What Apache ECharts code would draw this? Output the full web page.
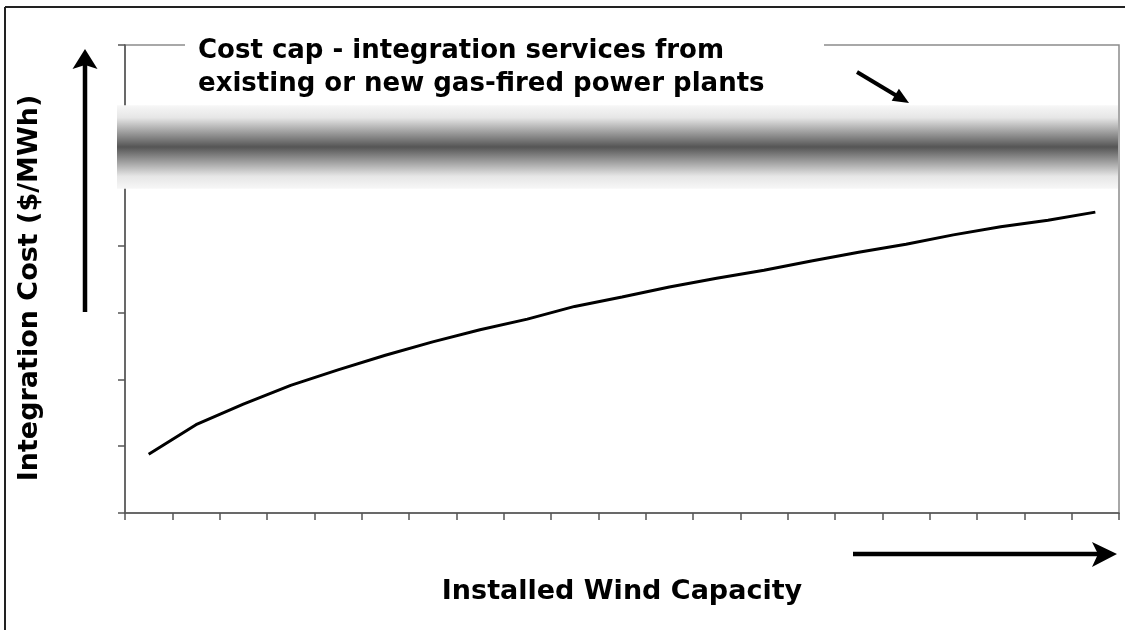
<!DOCTYPE html>
<html lang="en">
<head>
<meta charset="UTF-8">
<title>Integration cost vs installed wind capacity</title>
<script src="https://cdn.jsdelivr.net/npm/echarts@6/dist/echarts.min.js"></script>
<style>
  html, body { margin: 0; padding: 0; background: #fff; }
  #container { width: 1125px; height: 630px; }
</style>
</head>
<body>
<div id="container"></div>
<script>
// data (no tick labels in the original, so units are arbitrary)
const categories = ['1', '2', '3', '4', '5', '6', '7', '8', '9', '10', '11',
  '12', '13', '14', '15', '16', '17', '18', '19', '20', '21'];
const costValues = [0.88, 1.32, 1.63, 1.91, 2.14, 2.36, 2.56, 2.74, 2.90, 3.09, 3.23,
  3.38, 3.51, 3.63, 3.77, 3.90, 4.02, 4.16, 4.28, 4.38, 4.50];
const yRange = [0, 7];
const capBand = [4.85, 6.1]; // shaded "cost cap" band, in y units

const xName = 'Installed Wind Capacity';
const yName = 'Integration Cost ($/MWh)';
const capText = 'Cost cap - integration services from\nexisting or new gas-fired power plants';

const FONT = '"DejaVu Sans", Verdana, sans-serif';
const AXIS_COLOR = '#555';

const chart = echarts.init(document.getElementById('container'), null, { renderer: 'canvas' });

chart.setOption({
  animation: false,
  grid: {
    left: 125, right: 6, top: 45, bottom: 117,
    show: true, borderColor: '#8c8c8c', borderWidth: 1.5
  },
  xAxis: {
    type: 'category',
    data: categories,
    boundaryGap: true,
    axisLine: { lineStyle: { color: AXIS_COLOR, width: 1.5 } },
    axisTick: { show: true, length: 7, lineStyle: { color: AXIS_COLOR, width: 1.5 } },
    axisLabel: { show: false },
    splitLine: { show: false },
    name: xName,
    nameLocation: 'middle',
    nameGap: 65,
    nameTextStyle: { fontFamily: FONT, fontWeight: 'bold', fontSize: 27, color: '#000' }
  },
  yAxis: {
    type: 'value',
    min: yRange[0], max: yRange[1], interval: 1,
    axisLine: { show: true, lineStyle: { color: AXIS_COLOR, width: 1.5 } },
    axisTick: { show: true, length: 7, lineStyle: { color: AXIS_COLOR, width: 1.5 } },
    axisLabel: { show: false },
    splitLine: { show: false },
    name: yName,
    nameLocation: 'middle',
    nameGap: 82,
    nameRotate: 90,
    nameTextStyle: {
      fontFamily: FONT, fontWeight: 'bold', fontSize: 27, color: '#000',
      padding: [0, 18, 0, 0] // nudges the rotated name a little lower
    }
  },
  series: [{
    type: 'line',
    data: costValues,
    symbol: 'none',
    lineStyle: { color: '#000', width: 3 },
    z: 5
  }]
});

// band edges through the y scale
const bandTopPx = chart.convertToPixel({ yAxisIndex: 0 }, capBand[1]);
const bandBotPx = chart.convertToPixel({ yAxisIndex: 0 }, capBand[0]);

const black = { fill: '#000' };
chart.setOption({
  graphic: [
    // outer frame (left and top only)
    { type: 'line', z: 20, shape: { x1: 5, y1: 7, x2: 1125, y2: 7 }, style: { stroke: '#222', lineWidth: 2 } },
    { type: 'line', z: 20, shape: { x1: 5, y1: 7, x2: 5, y2: 630 }, style: { stroke: '#222', lineWidth: 2 } },
    // gradient band
    {
      type: 'rect', z: 10,
      shape: { x: 117, y: bandTopPx, width: 1001, height: bandBotPx - bandTopPx },
      style: {
        fill: new echarts.graphic.LinearGradient(0, 0, 0, 1, [
          { offset: 0, color: '#f7f7f7' },
          { offset: 0.15, color: '#e6e6e6' },
          { offset: 0.5, color: '#555555' },
          { offset: 0.85, color: '#e6e6e6' },
          { offset: 1, color: '#f7f7f7' }
        ])
      }
    },
    // white patch behind the caption on top of the plot border
    { type: 'rect', z: 11, shape: { x: 185, y: 36, width: 639, height: 14 }, style: { fill: '#fff' } },
    {
      type: 'text', z: 12, x: 198, y: 35,
      style: { text: capText, font: 'bold 26px ' + FONT, lineHeight: 33, fill: '#000' }
    },
    // arrow pointing at the band
    { type: 'line', z: 12, shape: { x1: 857, y1: 72, x2: 897, y2: 96 }, style: { stroke: '#000', lineWidth: 4 } },
    { type: 'polygon', z: 12, shape: { points: [[909, 103], [891.7, 100.8], [895.3, 94.8], [898.9, 88.8]] }, style: black },
    // y direction arrow
    { type: 'line', z: 12, shape: { x1: 85, y1: 312, x2: 85, y2: 64 }, style: { stroke: '#000', lineWidth: 4.5 } },
    { type: 'polygon', z: 12, shape: { points: [[85, 49], [72.5, 69], [85, 65], [97.5, 69]] }, style: black },
    // x direction arrow
    { type: 'line', z: 12, shape: { x1: 853, y1: 554, x2: 1100, y2: 554 }, style: { stroke: '#000', lineWidth: 4.5 } },
    { type: 'polygon', z: 12, shape: { points: [[1117, 554], [1092, 542], [1098, 554], [1092, 567]] }, style: black }
  ]
});
</script>
</body>
</html>
